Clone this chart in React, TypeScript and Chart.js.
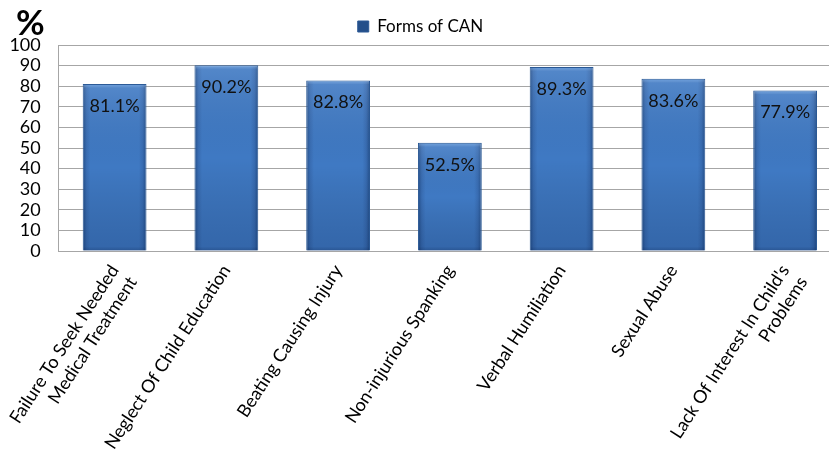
import React, { useEffect, useRef } from 'react';
import { Chart, registerables } from 'chart.js';

Chart.register(...registerables);

const categories: (string | string[])[] = [
  ['Failure To Seek Needed', 'Medical Treatment'],
  'Neglect Of Child Education',
  'Beating Causing Injury',
  'Non-injurious Spanking',
  'Verbal Humiliation',
  'Sexual Abuse',
  ["Lack Of Interest In Child's", 'Problems'],
];
const values = [81.1, 90.2, 82.8, 52.5, 89.3, 83.6, 77.9];
const seriesName = 'Forms of CAN';
const yMin = 0;
const yMax = 100;
const yStep = 10;
const unitLabel = '%';

const BAR_FRAC = 0.571;
const FONT = 'Lato, "Noto Sans", sans-serif';

function barFill(ctx: any) {
  const chart = ctx.chart;
  const xs = chart.scales && chart.scales.x;
  if (!xs || ctx.type !== 'data' || !xs.width) return '#3f78c2';
  const cx = xs.getPixelForValue(ctx.dataIndex);
  const w = (xs.width / values.length) * BAR_FRAC;
  const g = chart.ctx.createLinearGradient(cx - w / 2, 0, cx + w / 2, 0);
  g.addColorStop(0, '#244f8a');
  g.addColorStop(0.06, '#386cb2');
  g.addColorStop(0.12, '#3f79c3');
  g.addColorStop(0.88, '#3f79c3');
  g.addColorStop(0.94, '#386cb2');
  g.addColorStop(1, '#244f8a');
  return g;
}

const annotPlugin = {
  id: 'annot',
  afterDatasetsDraw(chart: any) {
    const c = chart.ctx;
    const meta = chart.getDatasetMeta(0);
    c.save();
    meta.data.forEach((bar: any, i: number) => {
      const { x, y, width, base } = bar.getProps(['x', 'y', 'width', 'base'], true);
      const h = base - y;
      const g = c.createLinearGradient(0, y, 0, base);
      g.addColorStop(0, 'rgba(150,200,255,0.45)');
      g.addColorStop(Math.min(0.04, 4 / h), 'rgba(255,255,255,0.10)');
      g.addColorStop(0.5, 'rgba(0,0,0,0)');
      g.addColorStop(Math.max(0.96, 1 - 4 / h), 'rgba(0,20,60,0.18)');
      g.addColorStop(1, 'rgba(0,20,60,0.35)');
      c.fillStyle = g;
      c.fillRect(x - width / 2 + 1, y + 1, width - 2, h - 1);
      c.fillStyle = '#111';
      c.font = '18px ' + FONT;
      c.textAlign = 'center';
      c.textBaseline = 'middle';
      c.fillText(values[i].toFixed(1) + '%', x, y + 22);
    });
    c.fillStyle = '#000';
    c.font = 'bold 35px ' + FONT;
    c.textAlign = 'left';
    c.textBaseline = 'alphabetic';
    c.fillText(unitLabel, 16, 35);
    c.restore();
  },
};

export default function App() {
  const ref = useRef<HTMLCanvasElement>(null);
  useEffect(() => {
    if (!ref.current) return;
    const chart = new Chart(ref.current, {
      type: 'bar',
      data: {
        labels: categories,
        datasets: [
          {
            label: seriesName,
            data: values,
            backgroundColor: barFill,
            borderColor: '#2a5894',
            borderWidth: 1,
            categoryPercentage: 1,
            barPercentage: BAR_FRAC,
          },
        ],
      },
      options: {
        animation: false,
        responsive: false,
        layout: { padding: { top: -5, left: 0, right: 1, bottom: 0 } },
        plugins: {
          legend: {
            position: 'top',
            labels: {
              boxWidth: 11,
              boxHeight: 11,
              padding: 23,
              color: '#000',
              font: { family: FONT, size: 17 },
            },
          },
          tooltip: { enabled: false },
        },
        scales: {
          x: {
            grid: { display: false, drawTicks: false },
            border: { color: '#a6a6a6' },
            ticks: {
              color: '#000',
              font: { family: FONT, size: 18 },
              maxRotation: 57,
              minRotation: 57,
              autoSkip: false,
              padding: 10,
            },
            afterFit: (s: any) => {
              s.height = 200;
            },
          },
          y: {
            min: yMin,
            max: yMax,
            grid: { color: '#a6a6a6', drawTicks: false },
            border: { color: '#a6a6a6' },
            ticks: {
              stepSize: yStep,
              autoSkip: false,
              color: '#000',
              font: { family: FONT, size: 18 },
              padding: 18,
            },
            afterFit: (s: any) => {
              s.width = 57;
            },
          },
        },
      },
      plugins: [annotPlugin],
    });
    return () => chart.destroy();
  }, []);
  return (
    <div
      style={{
        position: 'fixed',
        left: 0,
        top: 0,
        width: 829,
        height: 451,
        overflow: 'hidden',
        background: '#fff',
      }}
    >
      <canvas ref={ref} width={842} height={451} style={{ width: 842, height: 451, display: 'block' }} />
    </div>
  );
}
